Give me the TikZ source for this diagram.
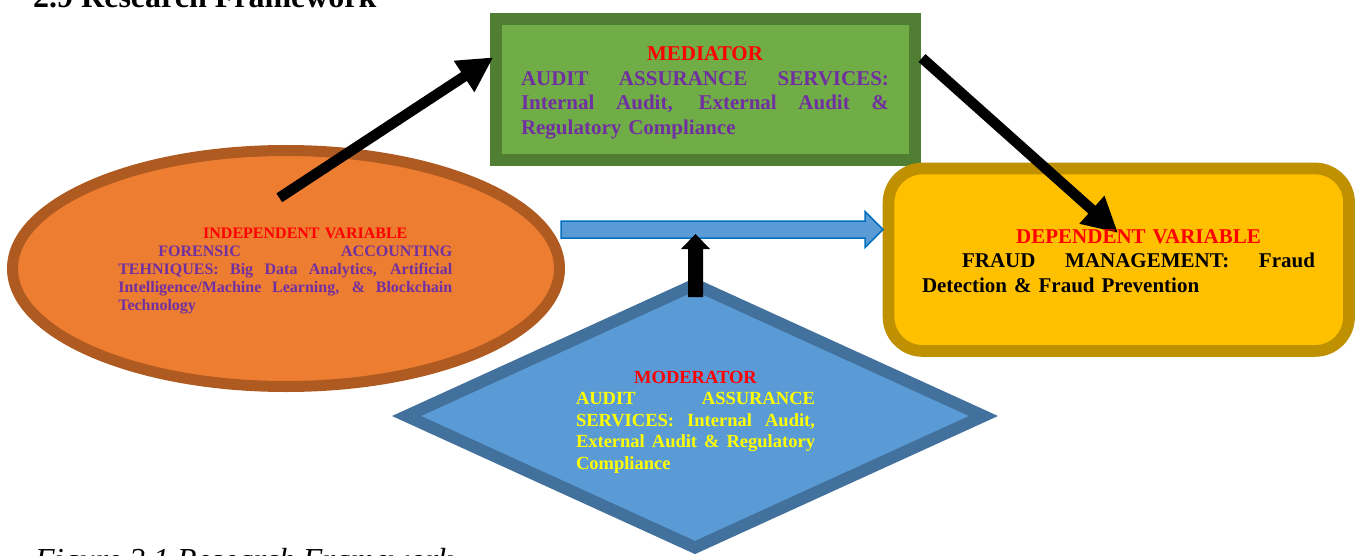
\documentclass[tikz,border=0pt]{standalone}
\usepackage{fontspec}
\setmainfont{Liberation Serif}
\usetikzlibrary{arrows.meta,shapes.geometric,calc}
\definecolor{orfill}{HTML}{ED7D31}
\definecolor{ordraw}{HTML}{AE5A21}
\definecolor{grfill}{HTML}{70AD47}
\definecolor{grdraw}{HTML}{507E32}
\definecolor{yefill}{HTML}{FFC000}
\definecolor{yedraw}{HTML}{BF9000}
\definecolor{blfill}{HTML}{5B9BD5}
\definecolor{bldraw}{HTML}{41719C}
\definecolor{blarrow}{HTML}{0070C0}
\definecolor{purp}{HTML}{7030A0}
\definecolor{redt}{HTML}{FF0000}
\definecolor{yelt}{HTML}{FFFF00}
\newcommand{\jline}[2]{\makebox[#1][s]{\spaceskip=0.25em plus 1fil\xspaceskip=0.25em plus 1fil\relax #2}}
\begin{document}
\begin{tikzpicture}[x=1pt,y=-1pt,
  shapebox/.style={inner sep=0pt, outer sep=0pt},
  txt/.style={anchor=north west, inner sep=0pt, outer sep=0pt, align=left},
  bigarrow/.style={line width=10.5pt, -{Triangle[length=35pt,width=35pt]}},
]
\clip (0,0) rectangle (1362,556);
\fill[white] (0,0) rectangle (1362,556);

% title
\node[anchor=base west, inner sep=0pt, font=\fontsize{32}{38}\selectfont\bfseries] (title) at (33,8) {2.9 Research Framework};

% shapes
\node[shapebox, ellipse, draw=ordraw, fill=orfill, line width=11pt, minimum width=547pt, minimum height=236pt] (ell) at (286,268.5) {};
\node[shapebox, rectangle, draw=grdraw, fill=grfill, line width=12pt, minimum width=419pt, minimum height=140.4pt] (med) at (705,89.5) {};
\node[shapebox, rectangle, rounded corners=34pt, draw=yedraw, fill=yefill, line width=11.7pt, minimum width=460.5pt, minimum height=182.5pt] (dep) at (1118.8,259.7) {};
\node[shapebox, diamond, draw=bldraw, fill=blfill, line width=12pt, minimum width=577pt, minimum height=263pt] (mod) at (695,416) {};

% blue block arrow
\coordinate (blS) at (561,229.5);
\coordinate (blE) at (883,229.5);
\draw[fill=blfill, draw=blarrow, line width=1.5pt, line join=miter]
  ($(blS)+(0,-8.5)$) -- ($(blE)+(-18,-8.5)$) -- ($(blE)+(-18,-18)$) -- (blE)
  -- ($(blE)+(-18,18)$) -- ($(blE)+(-18,8.5)$) -- ($(blS)+(0,8.5)$) -- cycle;

% black up block arrow
\coordinate (upS) at (695.5,297);
\coordinate (upE) at (695.5,234);
\fill[black] ($(upS)+(-7.5,0)$) -- ($(upE)+(-7.5,15)$) -- ($(upE)+(-14.5,15)$) -- (upE)
  -- ($(upE)+(14.5,15)$) -- ($(upE)+(7.5,15)$) -- ($(upS)+(7.5,0)$) -- cycle;

% black arrows
\coordinate (a1s) at (279.3,197.8);
\coordinate (a1e) at (493.3,57.3);
\coordinate (a2s) at (922,58);
\coordinate (a2e) at (1118,233);
\draw[bigarrow] (a1s) -- (a1e);
\draw[bigarrow] (a2s) -- (a2e);

% texts
\node[txt, text width=368pt, font=\fontsize{21}{24.4}\selectfont\bfseries, text=purp] (medtxt) at (521,41)
{\parindent=0pt\rule{0pt}{20pt}\makebox[368pt][c]{\textcolor{redt}{MEDIATOR}}\\
\jline{368pt}{AUDIT ASSURANCE SERVICES:}\\
\jline{368pt}{Internal Audit, External Audit \&}\\
Regulatory Compliance};

\node[txt, text width=334pt, font=\fontsize{16}{18.1}\selectfont\bfseries, text=purp] (elltxt) at (118.3,224.3)
{\parindent=0pt\rule{0pt}{14pt}\makebox[334pt][c]{\hspace*{40pt}\textcolor{redt}{INDEPENDENT VARIABLE}}\\
\jline{334pt}{\hspace*{40pt}FORENSIC ACCOUNTING}\\
\jline{334pt}{TEHNIQUES: Big Data Analytics, Artificial}\\
\jline{334pt}{Intelligence/Machine Learning, \& Blockchain}\\
Technology};

\node[txt, text width=393pt, font=\fontsize{21}{24.5}\selectfont\bfseries, text=black] (deptxt) at (922,223)
{\parindent=0pt\rule{0pt}{20pt}\makebox[393pt][c]{\hspace*{40pt}\textcolor{redt}{DEPENDENT VARIABLE}}\\
\jline{393pt}{\hspace*{40pt}FRAUD MANAGEMENT: Fraud}\\
Detection \& Fraud Prevention};

\node[txt, text width=239pt, font=\fontsize{18.5}{21.4}\selectfont\bfseries, text=yelt] (modtxt) at (576,365.5)
{\parindent=0pt\rule{0pt}{18pt}\makebox[239pt][c]{\textcolor{redt}{MODERATOR}}\\
\jline{239pt}{AUDIT ASSURANCE}\\
\jline{239pt}{SERVICES: Internal Audit,}\\
\jline{239pt}{External Audit \& Regulatory}\\
Compliance};

% caption
\node[anchor=base west, inner sep=0pt, font=\fontsize{32}{38}\selectfont\itshape] (caption) at (35,570) {Figure 2.1 Research Framework};
\end{tikzpicture}
\end{document}
